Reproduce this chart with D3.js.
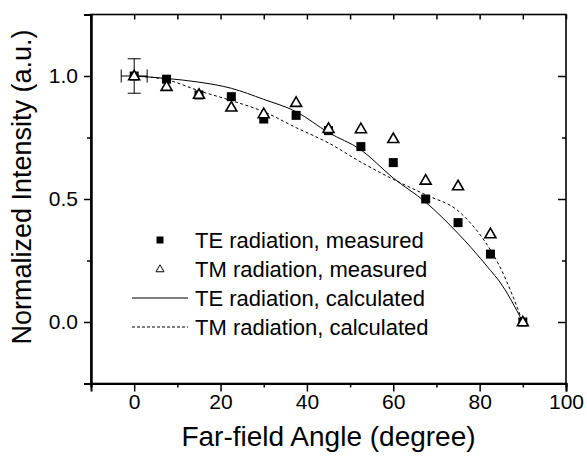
<!DOCTYPE html>
<html>
<head>
<meta charset="utf-8">
<script src="https://cdn.jsdelivr.net/npm/d3@7"></script>
<style>
  body { margin: 0; background: #fff; }
  svg { font-family: "Liberation Sans", Arial, sans-serif; }
</style>
</head>
<body>
<svg id="chart" width="587" height="460"></svg>
<script>
// measured angles (degree)
const angles = [0, 7.5, 15, 22.5, 30, 37.5, 45, 52.5, 60, 67.5, 75, 82.5, 90];
const teMeasured = [1.0, 0.987, 0.923, 0.916, 0.825, 0.840, 0.778, 0.713, 0.648, 0.50, 0.404, 0.276, 0.0];
const tmMeasured = [1.0, 0.957, 0.925, 0.873, 0.846, 0.892, 0.786, 0.785, 0.745, 0.576, 0.553, 0.358, 0.0];

// calculated curves
const calcAngles = [0, 7.5, 15, 22.5, 30, 37.5, 45, 52.5, 60, 67.5, 75, 78, 82.5, 84.5, 90];
const teCalc = [1.0, 0.99, 0.975, 0.95, 0.905, 0.855, 0.77, 0.70, 0.585, 0.487, 0.36, 0.303, 0.21, 0.167, 0.0];
const tmCalc = [1.0, 0.985, 0.94, 0.90, 0.855, 0.79, 0.728, 0.65, 0.58, 0.517, 0.452, 0.40, 0.293, 0.231, 0.0];

// error bar on the first point
const errPoint = { x: 0, y: 1.0, dx: 3, dy: 0.07 };

const legendItems = [
  { label: "TE radiation, measured", type: "square" },
  { label: "TM radiation, measured", type: "triangle" },
  { label: "TE radiation, calculated", type: "solid" },
  { label: "TM radiation, calculated", type: "dashed" }
];

const xTicks = [0, 20, 40, 60, 80, 100];
const xMinor = [-10, 10, 30, 50, 70, 90];
const yTicks = [0.0, 0.5, 1.0];
const yMinor = [0.25, 0.75];

const svg = d3.select("#chart");
const pLeft = 91, pRight = 566, pTop = 14.5, pBottom = 383.5;

const x = d3.scaleLinear().domain([-10, 100]).range([pLeft, pRight]);
const y = d3.scaleLinear().domain([-0.25, 1.25]).range([pBottom, pTop]);

// frame
svg.append("rect")
  .attr("x", pLeft).attr("y", pTop)
  .attr("width", pRight - pLeft).attr("height", pBottom - pTop)
  .attr("fill", "none").attr("stroke", "#000").attr("stroke-width", 1.6);

// bottom axis (outward ticks)
const gx = svg.append("g").attr("transform", `translate(0,${pBottom})`);
gx.call(d3.axisBottom(x).tickValues(xTicks).tickSize(8).tickPadding(3).tickFormat(d3.format("d")));
gx.append("g").call(d3.axisBottom(x).tickValues(xMinor).tickSize(4).tickFormat(""));
gx.selectAll(".domain").attr("stroke-width", 2);
gx.selectAll("line").attr("stroke-width", 1.5);
gx.selectAll("text").attr("font-size", 21).attr("fill", "#000")
  .attr("font-family", "Liberation Sans, Arial, sans-serif");

// left axis (outward ticks)
const gy = svg.append("g").attr("transform", `translate(${pLeft},0)`);
gy.call(d3.axisLeft(y).tickValues(yTicks).tickSize(7).tickPadding(6).tickFormat(d3.format(".1f")));
gy.append("g").call(d3.axisLeft(y).tickValues(yMinor).tickSize(4).tickFormat(""));
gy.selectAll(".domain").attr("stroke-width", 2);
gy.selectAll("line").attr("stroke-width", 1.5);
gy.selectAll("text").attr("font-size", 21).attr("fill", "#000")
  .attr("font-family", "Liberation Sans, Arial, sans-serif");

// top axis (inward ticks)
const gt = svg.append("g").attr("transform", `translate(0,${pTop})`);
gt.call(d3.axisTop(x).tickValues(xTicks.concat(xMinor)).tickSize(-5).tickFormat(""));
gt.selectAll(".domain").remove();
gt.selectAll("line").attr("stroke-width", 1.5);

// right axis (inward ticks)
const gr = svg.append("g").attr("transform", `translate(${pRight},0)`);
gr.call(d3.axisRight(y).tickValues(yTicks).tickSize(-8).tickFormat(""));
gr.append("g").call(d3.axisRight(y).tickValues(yMinor).tickSize(-4).tickFormat(""));
gr.selectAll(".domain").remove();
gr.selectAll("line").attr("stroke-width", 1.5);

// axis titles
svg.append("text")
  .attr("x", (pLeft + pRight) / 2).attr("y", 446)
  .attr("text-anchor", "middle").attr("font-size", 28)
  .text("Far-field Angle (degree)");

svg.append("text")
  .attr("transform", `translate(31,${187}) rotate(-90)`)
  .attr("text-anchor", "middle").attr("font-size", 27)
  .text("Normalized Intensity (a.u.)");

// calculated curves
const line = d3.line().x(d => x(d[0])).y(d => y(d[1])).curve(d3.curveMonotoneX);
svg.append("path")
  .datum(calcAngles.map((a, i) => [a, teCalc[i]]))
  .attr("d", line).attr("fill", "none").attr("stroke", "#000").attr("stroke-width", 1);
svg.append("path")
  .datum(calcAngles.map((a, i) => [a, tmCalc[i]]))
  .attr("d", line).attr("fill", "none").attr("stroke", "#000").attr("stroke-width", 1)
  .attr("stroke-dasharray", "3,2.5");

// error bar
const eb = svg.append("g").attr("stroke", "#000").attr("stroke-width", 1);
eb.append("line").attr("x1", x(errPoint.x)).attr("x2", x(errPoint.x))
  .attr("y1", y(errPoint.y - errPoint.dy)).attr("y2", y(errPoint.y + errPoint.dy));
eb.append("line").attr("x1", x(errPoint.x - errPoint.dx)).attr("x2", x(errPoint.x + errPoint.dx))
  .attr("y1", y(errPoint.y)).attr("y2", y(errPoint.y));
[errPoint.y - errPoint.dy, errPoint.y + errPoint.dy].forEach(v => {
  eb.append("line").attr("x1", x(errPoint.x) - 6.5).attr("x2", x(errPoint.x) + 6.5)
    .attr("y1", y(v)).attr("y2", y(v));
});
[errPoint.x - errPoint.dx, errPoint.x + errPoint.dx].forEach(v => {
  eb.append("line").attr("x1", x(v)).attr("x2", x(v))
    .attr("y1", y(errPoint.y) - 6.5).attr("y2", y(errPoint.y) + 6.5);
});

// markers
const triPath = s => {
  const h = s * Math.sqrt(3) / 2;
  return `M0,${-h * 0.6}L${s / 2},${h * 0.4}L${-s / 2},${h * 0.4}Z`;
};

svg.append("g").selectAll("rect")
  .data(angles.map((a, i) => [a, teMeasured[i]]))
  .join("rect")
  .attr("x", d => x(d[0]) - 4.5).attr("y", d => y(d[1]) - 4.5)
  .attr("width", 9).attr("height", 9).attr("fill", "#000");

svg.append("g").selectAll("path")
  .data(angles.map((a, i) => [a, tmMeasured[i]]))
  .join("path")
  .attr("transform", d => `translate(${x(d[0])},${y(d[1])})`)
  .attr("d", triPath(11)).attr("fill", "#fff").attr("stroke", "#000").attr("stroke-width", 1.6);

// legend
const lg = svg.append("g");
legendItems.forEach((it, i) => {
  const cy = 240 + i * 29;
  if (it.type === "square") {
    lg.append("rect").attr("x", 156.5).attr("y", cy - 3.5).attr("width", 7).attr("height", 7).attr("fill", "#000");
  } else if (it.type === "triangle") {
    lg.append("path").attr("transform", `translate(160,${cy})`).attr("d", triPath(8))
      .attr("fill", "#fff").attr("stroke", "#000").attr("stroke-width", 1);
  } else {
    lg.append("line").attr("x1", 132).attr("x2", 188).attr("y1", cy).attr("y2", cy)
      .attr("stroke", "#000").attr("stroke-width", 1)
      .attr("stroke-dasharray", it.type === "dashed" ? "3,2" : null);
  }
  lg.append("text").attr("x", 195).attr("y", cy + 7.5).attr("font-size", 22).text(it.label);
});
</script>
</body>
</html>
